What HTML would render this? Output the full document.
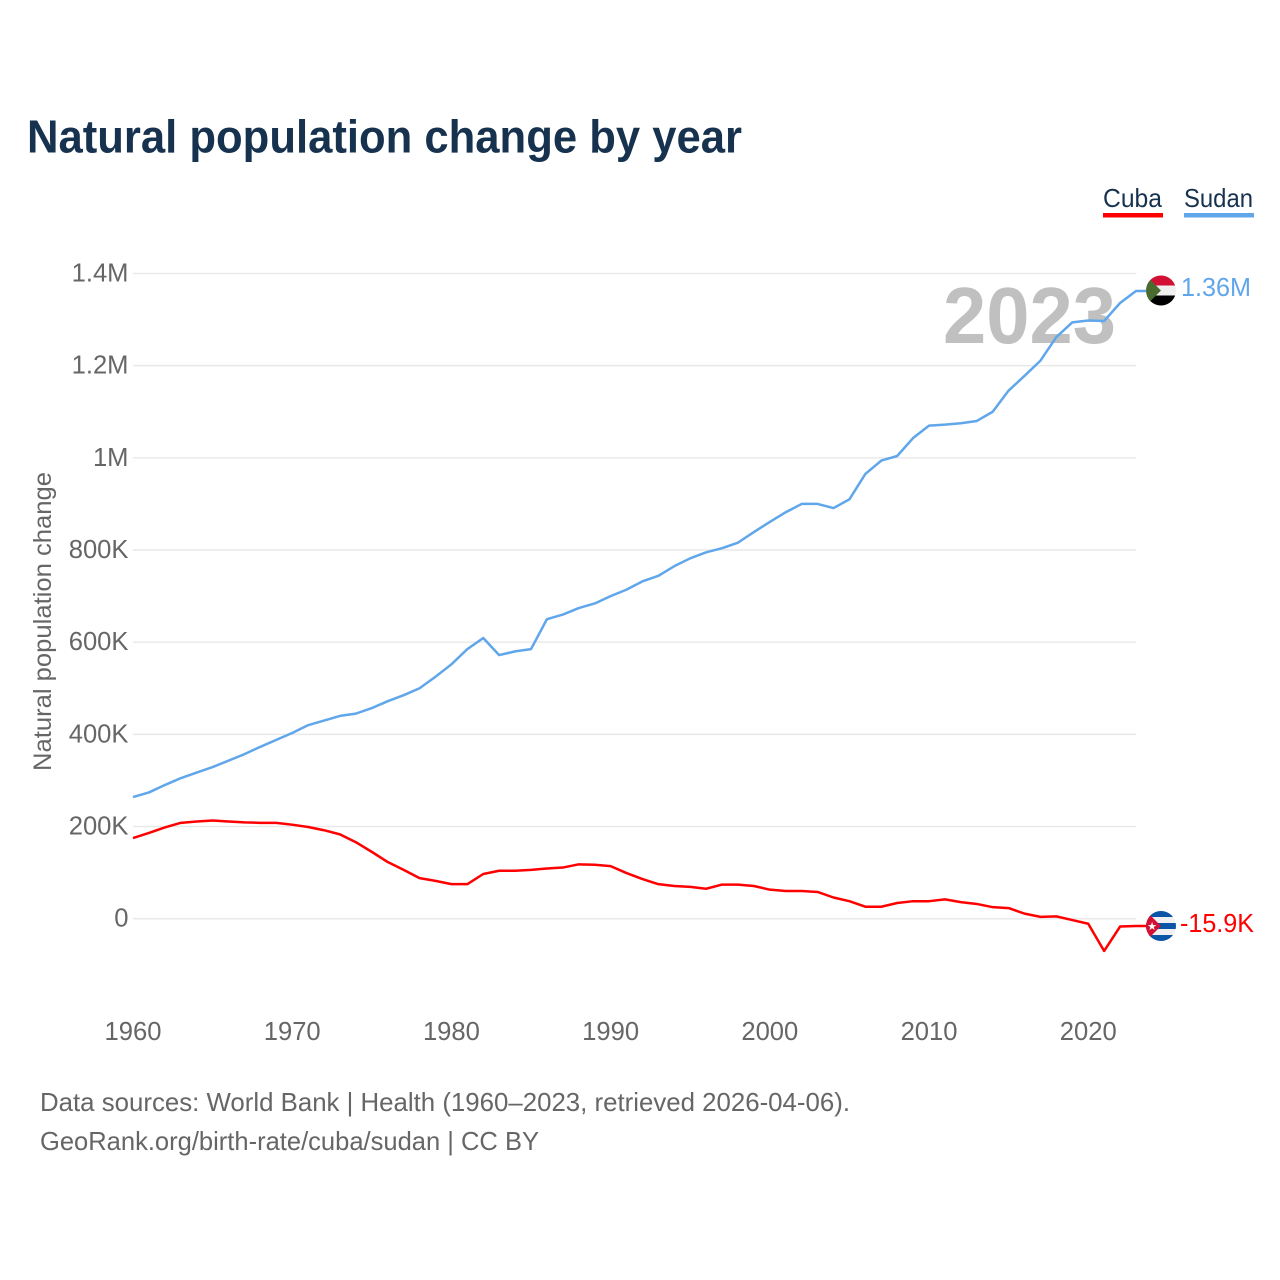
<!DOCTYPE html>
<html lang="en">
<head>
<meta charset="utf-8">
<title>Natural population change by year</title>
<style>
html,body{margin:0;padding:0;background:#fff;width:1280px;height:1280px;overflow:hidden}
svg{display:block;font-family:"Liberation Sans",sans-serif}
</style>
</head>
<body>
<svg id="chart" xmlns="http://www.w3.org/2000/svg" width="1280" height="1280" viewBox="0 0 1280 1280">
  <defs>
    <clipPath id="clip-sudan"><circle cx="1161" cy="290.5" r="15"/></clipPath>
    <clipPath id="clip-cuba"><circle cx="1161" cy="926" r="15"/></clipPath>
  </defs>
  <text x="27" y="152.5" font-size="46" font-weight="700" fill="#17324f" textLength="715" lengthAdjust="spacingAndGlyphs">Natural population change by year</text>

  <g>
    <text x="1103" y="207" font-size="26" fill="#17324f" textLength="59" lengthAdjust="spacingAndGlyphs">Cuba</text>
    <rect x="1103" y="213" width="60" height="4.5" fill="#ff0000"/>
  </g>
  <g>
    <text x="1184" y="207" font-size="26" fill="#17324f" textLength="69" lengthAdjust="spacingAndGlyphs">Sudan</text>
    <rect x="1184" y="213" width="70" height="4.5" fill="#60a6ea"/>
  </g>

  <text transform="translate(51 771) rotate(-90)" x="0" y="0" font-size="25" fill="#666666" textLength="299" lengthAdjust="spacingAndGlyphs">Natural population change</text>

  <g id="grid"></g>
  <g id="y-ticks"></g>
  <g id="x-ticks"></g>

  <text x="943" y="343" font-size="80" font-weight="700" fill="#c0c0c0" textLength="173" lengthAdjust="spacingAndGlyphs">2023</text>

  <g id="series"></g>

  <g clip-path="url(#clip-sudan)">
    <rect x="1146" y="275.5" width="30" height="10" fill="#d21034"/>
    <rect x="1146" y="285.5" width="30" height="10" fill="#f0f0f0"/>
    <rect x="1146" y="295.5" width="30" height="10" fill="#000000"/>
    <polygon points="1146,275.5 1161,290.5 1146,305.5" fill="#4a6b2f"/>
  </g>
  <g clip-path="url(#clip-cuba)">
    <rect x="1146" y="911" width="30" height="30" fill="#f0f0f0"/>
    <rect x="1146" y="911" width="30" height="6" fill="#0a55a8"/>
    <rect x="1146" y="923" width="30" height="6" fill="#0a55a8"/>
    <rect x="1146" y="935" width="30" height="6" fill="#0a55a8"/>
    <polygon points="1146,911 1161,926 1146,941" fill="#d21034"/>
    <text x="1152" y="930" font-size="11" fill="#ffffff" text-anchor="middle">★</text>
  </g>
  <text x="1181" y="296" font-size="25.5" fill="#60a6ea" textLength="70" lengthAdjust="spacingAndGlyphs">1.36M</text>
  <text x="1180" y="932" font-size="25.5" fill="#ff0000" textLength="74" lengthAdjust="spacingAndGlyphs">-15.9K</text>

  <text x="40" y="1111" font-size="26" fill="#666666" textLength="810" lengthAdjust="spacingAndGlyphs">Data sources: World Bank | Health (1960–2023, retrieved 2026-04-06).</text>
  <text x="40" y="1150" font-size="26" fill="#666666" textLength="499" lengthAdjust="spacingAndGlyphs">GeoRank.org/birth-rate/cuba/sudan | CC BY</text>
</svg>
<script>
const years = [1960,1961,1962,1963,1964,1965,1966,1967,1968,1969,1970,1971,1972,1973,1974,1975,1976,1977,1978,1979,1980,1981,1982,1983,1984,1985,1986,1987,1988,1989,1990,1991,1992,1993,1994,1995,1996,1997,1998,1999,2000,2001,2002,2003,2004,2005,2006,2007,2008,2009,2010,2011,2012,2013,2014,2015,2016,2017,2018,2019,2020,2021,2022,2023];
const sudanValues = [264,274,290,305,317,329,343,357,373,388,403,420,430,440,445,457,472,485,500,525,552,585,609,572,580,585,650,660,674,684,700,714,732,744,765,782,795,804,816,839,861,882,900,900,891,910,965,994,1004,1043,1070,1072,1075,1080,1100,1146,1178,1211,1262,1294,1298,1297,1336,1362];
const cubaValues = [175,186,198,208,211,213,211,209,208,208,204,199,192,183,166,145,123,106,88,82,75,75,97,104,104,106,109,111,118,117,114,99,86,75,71,69,65,74,74,71,63,60,60,58,46,38,26,26,34,38,38,42,36,32,25,23,11,4,5,-3,-11,-70,-17,-15.9];
const yTickValues = [0,200,400,600,800,1000,1200,1400];
const yTickLabels = ['0','200K','400K','600K','800K','1M','1.2M','1.4M'];
const xTickValues = [1960,1970,1980,1990,2000,2010,2020];

const NS = 'http://www.w3.org/2000/svg';
const xScale = function (year) { return 133 + (year - 1960) * (1136 - 133) / 63; };
const yScale = function (value) { return 918.7 - value * (918.7 - 273.5) / 1400; };

function make(tag, parent, attrs) {
  const el = document.createElementNS(NS, tag);
  Object.keys(attrs).forEach(function (k) { el.setAttribute(k, attrs[k]); });
  parent.appendChild(el);
  return el;
}

const gridGroup = document.getElementById('grid');
const yTickGroup = document.getElementById('y-ticks');
yTickValues.forEach(function (v, i) {
  const y = yScale(v);
  const line = make('line', gridGroup, {x1: 133, x2: 1136, y1: y, y2: y, stroke: '#e9e9e9', 'stroke-width': 1.5});
  
  
  const label = make('text', yTickGroup, {x: 128.5, y: y + 8, 'font-size': 25.6, fill: '#666666', 'text-anchor': 'end'});
  label.textContent = yTickLabels[i];
  
  
});

const xTickGroup = document.getElementById('x-ticks');
xTickValues.forEach(function (v) {
  const label = make('text', xTickGroup, {x: xScale(v), y: 1040, 'font-size': 25.6, fill: '#666666', 'text-anchor': 'middle'});
  label.textContent = String(v);
  
  
});

function drawSeries(values, color, name) {
  const pts = values.map(function (v, i) { return xScale(years[i]).toFixed(2) + ',' + yScale(v).toFixed(2); });
  const last = values[values.length - 1];
  pts.push('1146,' + yScale(last).toFixed(2));
  const path = make('polyline', document.getElementById('series'), {points: pts.join(' '), fill: 'none', stroke: color, 'stroke-width': 2.5, 'stroke-linejoin': 'round'});
  
  
}
drawSeries(sudanValues, '#60a6ea', 'line-sudan');
drawSeries(cubaValues, '#ff0000', 'line-cuba');
</script>
</body>
</html>
